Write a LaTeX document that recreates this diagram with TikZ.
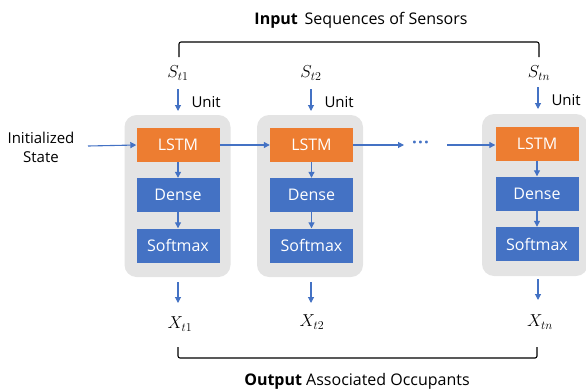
\documentclass[tikz,border=0pt]{standalone}
\usepackage{fontspec}
\setmainfont{Open Sans}
\usetikzlibrary{arrows.meta}
\definecolor{obl}{HTML}{4472C4}
\definecolor{oor}{HTML}{ED7D31}
\definecolor{ogr}{HTML}{E4E4E4}
\tikzset{
  every node/.style={font=\fontsize{15}{18}\selectfont},
  cell/.style={fill=ogr, rounded corners=12pt, minimum width=106pt, minimum height=162pt, inner sep=0pt},
  lstm/.style={fill=oor, text=white, minimum width=83pt, minimum height=34pt, inner sep=0pt, font=\fontsize{16}{18}\selectfont},
  dense/.style={fill=obl, text=white, minimum width=83pt, minimum height=34pt, inner sep=0pt, font=\fontsize{16}{18}\selectfont},
  arr/.style={draw=obl, line width=1.1pt, -{Triangle[length=6pt,width=6pt]}},
  brk/.style={draw=black, line width=1.1pt, rounded corners=2pt},
  mlab/.style={font=\fontsize{18}{20}\selectfont},
  ttl/.style={font=\fontsize{16}{18}\selectfont},
}
\begin{document}
\begin{tikzpicture}[x=1pt,y=-1pt]
\useasboundingbox (0,0) rectangle (586,391);
% title
\node[ttl] (intitle) at (361,20) {\textbf{Input}\, Sequences of Sensors};
\node[ttl] (outtitle) at (357,381) {\textbf{Output} Associated Occupants};
% cells
\node[cell] (c1) at (177.5,196) {};
\node[cell] (c2) at (310,196) {};
\node[cell] (c3) at (535,195) {};
% columns
\foreach \i/\x/\dy in {1/178/0, 2/311.5/0, 3/537/-1.5} {
  \node[lstm] (l\i) at (\x,145+\dy) {LSTM};
  \node[dense] (d\i) at (\x,195+\dy) {Dense};
  \node[dense] (s\i) at (\x,245.5+\dy) {Softmax};
  \draw[arr] (l\i) -- (d\i);
  \draw[arr] (d\i) -- (s\i);
}
% inputs
\node[mlab] (S1) at (178,73) {$S_{t1}$};
\node[mlab] (S2) at (311,73) {$S_{t2}$};
\node[mlab] (S3) at (539,73) {$S_{tn}$};
\coordinate (a1) at (178,89); \coordinate (b1) at (178,111);
\coordinate (a2) at (311,89); \coordinate (b2) at (311,111);
\coordinate (a3) at (538,87); \coordinate (b3) at (538,109);
\draw[arr] (a1) -- (b1);
\draw[arr] (a2) -- (b2);
\draw[arr] (a3) -- (b3);
\node[anchor=west] (u1) at (188,102) {Unit};
\node[anchor=west] (u2) at (321,102) {Unit};
\node[anchor=west] (u3) at (548,100) {Unit};
% outputs
\node[mlab] (X1) at (180,324) {$X_{t1}$};
\node[mlab] (X2) at (312,322) {$X_{t2}$};
\node[mlab] (X3) at (540,322) {$X_{tn}$};
\coordinate (o1) at (178,282); \coordinate (p1) at (178,303);
\coordinate (o2) at (311,282); \coordinate (p2) at (311,303);
\coordinate (o3) at (538,279); \coordinate (p3) at (538,300);
\draw[arr] (o1) -- (p1);
\draw[arr] (o2) -- (p2);
\draw[arr] (o3) -- (p3);
% initialized state
\node[align=center, font=\fontsize{15}{19}\selectfont] (init) at (41,147) {Initialized\\State};
\coordinate (i0) at (88,146);
\draw[arr] (i0) -- (l1.west);
\draw[arr] (l1.east) -- (l2.west);
\coordinate (q1) at (404,145);
\coordinate (q2) at (447,145);
\node[font=\bfseries\fontsize{17}{20}\selectfont, text=obl, inner sep=0pt] (dots) at (420.5,145) {\char"00B7\kern1.2pt\char"00B7\kern1.2pt\char"00B7};
\draw[arr] (l2.east |- q1) -- (q1);
\draw[arr] (q2) -- (q2 -| l3.west);
% brackets
\coordinate (t1) at (179,57); \coordinate (t2) at (179,42);
\coordinate (t3) at (539,42); \coordinate (t4) at (539,57);
\draw[brk] (t1) -- (t2) -- (t3) -- (t4);
\coordinate (w1) at (178,347); \coordinate (w2) at (178,358);
\coordinate (w3) at (537,358); \coordinate (w4) at (537,347);
\draw[brk] (w1) -- (w2) -- (w3) -- (w4);
\end{tikzpicture}
\end{document}
